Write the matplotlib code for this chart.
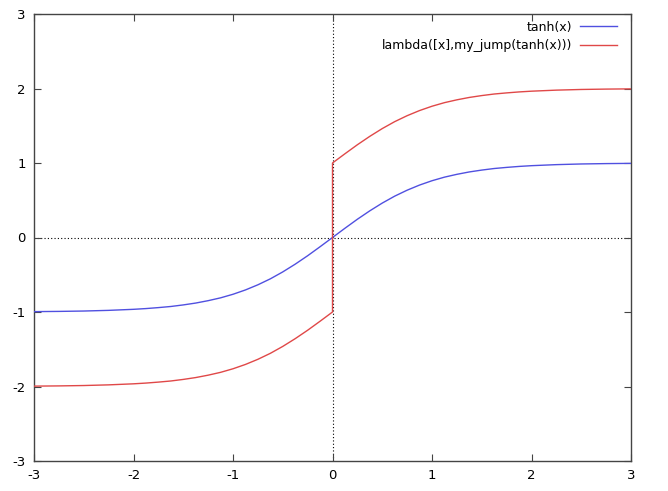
import matplotlib
matplotlib.use("Agg")
import matplotlib.pyplot as plt

plt.rcParams['axes.unicode_minus'] = False

# values
x_vals = [-3.0, -2.75, -2.5, -2.25, -2.0, -1.875, -1.75, -1.625, -1.5, -1.375, -1.25, -1.125,
          -1.0, -0.875, -0.75, -0.625, -0.5, -0.375, -0.25, -0.125, 0.0,
          0.125, 0.25, 0.375, 0.5, 0.625, 0.75, 0.875, 1.0, 1.125, 1.25, 1.375,
          1.5, 1.625, 1.75, 1.875, 2.0, 2.25, 2.5, 2.75, 3.0]
tanh_vals = [-0.995, -0.992, -0.987, -0.978, -0.964, -0.954, -0.941, -0.926, -0.905, -0.880, -0.848, -0.810,
             -0.762, -0.704, -0.635, -0.555, -0.462, -0.358, -0.245, -0.124, 0.0,
             0.124, 0.245, 0.358, 0.462, 0.555, 0.635, 0.704, 0.762, 0.810, 0.848, 0.880,
             0.905, 0.926, 0.941, 0.954, 0.964, 0.978, 0.987, 0.992, 0.995]

jump_x = [-3.0, -2.75, -2.5, -2.25, -2.0, -1.875, -1.75, -1.625, -1.5, -1.375, -1.25, -1.125,
          -1.0, -0.875, -0.75, -0.625, -0.5, -0.375, -0.25, -0.125, 0.0,
          0.0, 0.125, 0.25, 0.375, 0.5, 0.625, 0.75, 0.875, 1.0, 1.125, 1.25, 1.375,
          1.5, 1.625, 1.75, 1.875, 2.0, 2.25, 2.5, 2.75, 3.0]
jump_vals = [-1.995, -1.992, -1.987, -1.978, -1.964, -1.954, -1.941, -1.926, -1.905, -1.880, -1.848, -1.810,
             -1.762, -1.704, -1.635, -1.555, -1.462, -1.358, -1.245, -1.124, -1.0,
             1.0, 1.124, 1.245, 1.358, 1.462, 1.555, 1.635, 1.704, 1.762, 1.810, 1.848, 1.880,
             1.905, 1.926, 1.941, 1.954, 1.964, 1.978, 1.987, 1.992, 1.995]

labels = ['tanh(x)', 'lambda([x],my_jump(tanh(x)))']
xticks = [-3, -2, -1, 0, 1, 2, 3]
yticks = [-3, -2, -1, 0, 1, 2, 3]

fig = plt.figure(figsize=(6.68, 4.91), dpi=100)
ax = fig.add_axes([34 / 668, 1 - 461 / 491, 597 / 668, 447 / 491])

# dotted zero axes
ax.axhline(0, color='black', linestyle=(0, (1, 2)), linewidth=0.8, zorder=1)
ax.axvline(0, color='black', linestyle=(0, (1, 2)), linewidth=0.8, zorder=1)

ax.plot(x_vals, tanh_vals, color='#5050e0', linewidth=1.0, label=labels[0], zorder=3)
ax.plot(jump_x, jump_vals, color='#e04848', linewidth=1.0, label=labels[1], zorder=3)

ax.set_xlim(-3, 3)
ax.set_ylim(-3, 3)
ax.set_xticks(xticks)
ax.set_yticks(yticks)
ax.tick_params(direction='in', top=True, right=True, length=5, width=0.8,
               color='#444444', labelsize=9.5, pad=6)
for s in ax.spines.values():
    s.set_color('#444444')
    s.set_linewidth(1.0)

leg = ax.legend(loc='upper right', bbox_to_anchor=(0.977, 0.985), frameon=False,
                markerfirst=False, fontsize=9, handlelength=3.0, handletextpad=0.6,
                borderaxespad=0, borderpad=0, labelspacing=0.45)
for t in leg.get_texts():
    t.set_ha('right')
leg._legend_box.align = 'right'

fig.savefig('out.png', dpi=100)
